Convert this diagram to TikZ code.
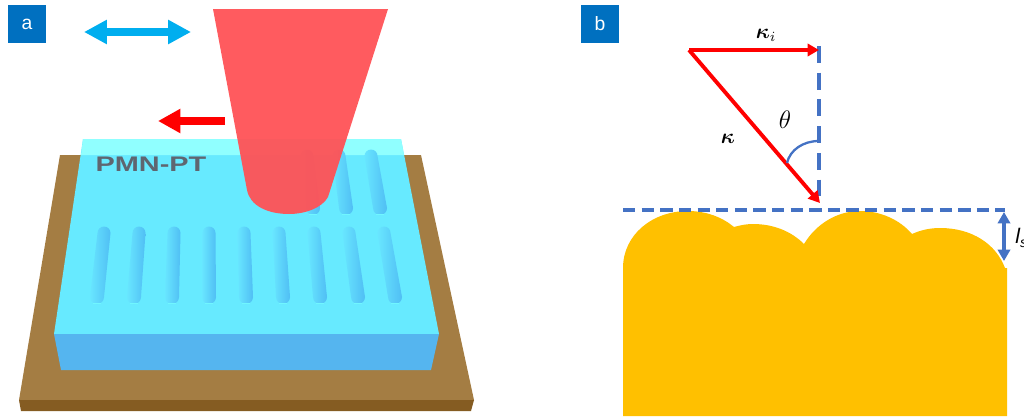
\documentclass[tikz,border=0pt]{standalone}
\usepackage{amsmath,bm}
\usepackage{fontspec}
\setsansfont{Liberation Sans}
\usepackage{xcolor}
\usetikzlibrary{arrows.meta, positioning}

\definecolor{panelblue}{HTML}{0070C0}
\definecolor{baserim}{HTML}{A47D43}
\definecolor{baseedge}{HTML}{855C22}
\definecolor{crystaltop}{HTML}{67EAFF}
\definecolor{crystalglass}{HTML}{90FFFF}
\definecolor{crystalfront}{HTML}{55B5EF}
\definecolor{beamred}{HTML}{FF5256}
\definecolor{sweepblue}{HTML}{00AEEF}
\definecolor{dashblue}{HTML}{4472C4}
\definecolor{roughgold}{HTML}{FFC000}
\definecolor{labelgrey}{HTML}{5F6670}
\definecolor{groovelight}{HTML}{68E6FF}
\definecolor{groovemid}{HTML}{5FDCFF}
\definecolor{groovedark}{HTML}{50BEF4}
\definecolor{grooveglow}{HTML}{70F6FF}

\tikzset{
    panel/.style={fill=panelblue, text=white, minimum size=0.76cm, inner sep=0pt,
        font=\sffamily\fontsize{11}{13}\selectfont},
    groove/.style={left color=groovelight, middle color=groovemid, right color=groovedark},
    vecred/.style={draw=red, line width=2.2pt, -{Triangle[length=6.5pt,width=7pt]}},
    dashline/.style={draw=dashblue, line width=1.8pt},
    mathlabel/.style={inner sep=0pt, font=\fontsize{12}{14}\selectfont},
}

% groove on the crystal: top x, bottom x, top y, bottom y
\newcommand{\groovebar}[4]{
    \shade[groove] ({#1-6.5},#3) arc[start angle=180, end angle=360, radius=6.5]
        -- ({#2+7},#4) arc[start angle=0, end angle=180, radius=7] -- cycle;
    \draw[grooveglow, line width=0.7pt] ({#2-4},{#4+6.5}) -- ({#2+4},{#4+6.5});
}

\begin{document}
\begin{tikzpicture}[x=0.02cm, y=-0.02cm]
    \useasboundingbox (0,0) rectangle (1024,419);

    % panel a
    \fill[baserim] (60,155) -- (421,155) -- (474,400) -- (19,400) -- cycle;
    \fill[baseedge] (19,400) -- (474,400) -- (471,411) -- (21,411) -- cycle;
    \fill[crystaltop] (83,139) -- (401,139) -- (439,334) -- (54,334) -- cycle;
    \fill[crystalglass] (83,139) -- (401,139) -- (404,155) -- (81,155) -- cycle;
    \fill[crystalfront] (54,334) -- (439,334) -- (431,370) -- (61,370) -- cycle;

    \foreach \xa/\xb in {104/97, 139/134, 174/172, 209/209, 244/246, 279/283, 314/320, 349/358, 384/395}
        \groovebar{\xa}{\xb}{233}{297};
    \foreach \xa/\xb in {307/313, 339/346, 371/380}
        \groovebar{\xa}{\xb}{156}{208};

    \node[text=labelgrey, xscale=1.37, inner sep=0pt, font=\sffamily\bfseries\fontsize{12}{14}\selectfont] (pmn) at (151,164) {PMN-PT};

    \fill[beamred, opacity=0.95] (213,9) -- (388,9) -- (328,197)
        .. controls (322,208) and (305,214) .. (289,214)
        .. controls (268,214) and (250,206) .. (247,190) -- cycle;

    \coordinate (sweepl) at (84,32);
    \coordinate (sweepr) at (191,32);
    \draw[sweepblue, line width=4.5pt, {Triangle[length=13pt,width=13pt]}-{Triangle[length=13pt,width=13pt]}] (sweepl) -- (sweepr);
    \coordinate (movetail) at (225,121);
    \coordinate (movetip) at (158,121);
    \draw[red, line width=4.5pt, -{Triangle[length=12.7pt,width=13pt]}] (movetail) -- (movetip);

    \node[panel] (labela) at (27,24) {a};
    \node[panel] (labelb) at (600,24) {b};

    % panel b
    \fill[roughgold] (623,416) -- (623,268)
        .. controls (623,235) and (652,211) .. (688,211)
        .. controls (706,211) and (722,217) .. (734,227)
        .. controls (741,225) and (747,224) .. (753,224)
        .. controls (773,224) and (791,231) .. (804,244)
        .. controls (816,224) and (837,211) .. (860,211)
        .. controls (881,211) and (900,220) .. (912,234)
        .. controls (921,230) and (930,228) .. (940,228)
        .. controls (972,228) and (996,244) .. (1005,268)
        -- (1007,268) -- (1007,416) -- cycle;

    \coordinate (surfl) at (623,210);
    \coordinate (surfr) at (1005,210);
    \draw[dashline, dash pattern=on 7pt off 3.6pt] (surfl) -- (surfr);
    \coordinate (normt) at (819,46);
    \coordinate (normb) at (819,197);
    \draw[dashline, line width=2.2pt, dash pattern=on 9.6pt off 5.6pt] (normt) -- (normb);

    \coordinate (kstart) at (689,50);
    \coordinate (ktip) at (820,203);
    \coordinate (kitip) at (819,50);
    \draw[vecred] (kstart) -- (kitip);
    \draw[vecred] (kstart) -- (ktip);

    \coordinate (arca) at (819,141);
    \coordinate (arcb) at (787,163);
    \draw[dashblue, line width=1.3pt] (arca) .. controls (803,141) and (790,150) .. (arcb);

    \node[mathlabel] (ki) at (766,35) {$\bm{\kappa}_{i}$};
    \node[mathlabel] (k) at (728,139) {$\bm{\kappa}$};
    \node[mathlabel, font=\fontsize{14}{16}\selectfont] (theta) at (785,120) {$\theta$};

    \coordinate (lsa) at (1004,212);
    \coordinate (lsb) at (1004,261);
    \draw[dashblue, line width=2pt, {Triangle[length=6.5pt,width=7pt]}-{Triangle[length=6.5pt,width=7pt]}] (lsa) -- (lsb);
    \node[inner sep=0pt, anchor=west, font=\sffamily\itshape\fontsize{12}{14}\selectfont] (ls) at (1015,238) {l\textsubscript{s}};
\end{tikzpicture}
\end{document}
